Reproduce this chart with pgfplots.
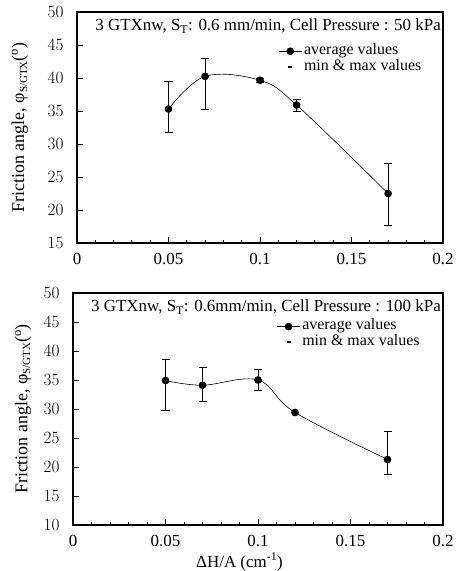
\documentclass[border=0pt]{standalone}
\usepackage{fontspec}
\setmainfont{Liberation Serif}
\usepackage{pgfplots}
\pgfplotsset{compat=1.18}

\pgfplotstableread{
x     y      ep    em
0.05  35.3   4.2   3.5
0.07  40.25  2.75  5.0
0.10  39.65  0.3   0.3
0.12  35.9   0.8   0.9
0.17  22.5   4.6   4.8
}\lowp

\pgfplotstableread{
x     y      ep    em
0.05  34.9   3.7   5.1
0.07  34.1   3.0   2.8
0.10  35.0   1.8   1.8
0.12  29.4   0.0   0.0
0.17  21.3   4.8   2.5
}\highp

\pgfplotsset{
  frictionax/.style={
    scale only axis,
    xmin=0, xmax=0.2,
    xtick={0,0.05,0.1,0.15,0.2},
    xticklabels={0,0.05,0.1,0.15,0.2},
    minor x tick num=4,
    ytick distance=5,
    tick pos=left,
    tick align=inside,
    major tick length=6bp,
    minor tick length=3bp,
    axis line style={line width=1.3pt},
    every tick/.style={black, line width=0.9pt},
    tick label style={font=\fontsize{17}{19}\selectfont},
    xticklabel style={yshift=-7bp},
    yticklabel style={xshift=-10bp},
    xlabel style={font=\fontsize{17}{19}\selectfont},
    ylabel style={font=\fontsize{18}{20}\selectfont, anchor=center},
    ylabel={Friction angle, φ\raisebox{-0.35ex}{\fontsize{11}{12}\selectfont S/GTX}(\textsuperscript{o})},
    legend style={draw=none, fill=none, font=\fontsize{16}{16}\selectfont,
      anchor=north west, row sep=2bp, inner sep=0pt,
      cells={anchor=west, text height=8bp, text depth=2bp, inner ysep=1bp, inner xsep=4bp}},
    legend image code/.code={
      \draw[mark repeat=2, mark phase=2, #1] plot coordinates {(0bp,0bp) (11.5bp,0bp) (23bp,0bp)};
    },
  },
  avgline/.style={black, line width=0.6pt, smooth, tension=0.6,
    mark=*, mark size=3.5bp, mark options={solid, fill=black},
    error bars/.cd, y dir=both, y explicit,
    error bar style={line width=0.7pt},
    error mark options={rotate=90, mark size=4bp, line width=0.7pt}},
}

\begin{document}
\begin{tikzpicture}
\useasboundingbox (0,0) rectangle (461bp,571bp);

\begin{axis}[frictionax,
  at={(77bp,328bp)}, anchor=south west,
  width=366bp, height=231bp,
  ymin=15, ymax=50,
  ylabel style={at={(axis description cs:-0.156,0.5)}},
  legend style={at={(rel axis cs:0.55,0.86)}},
]
\addplot+[avgline] table[x=x, y=y, y error plus=ep, y error minus=em] {\lowp};
\addlegendentry{average values}
\addlegendimage{legend image code/.code={\draw[line width=1.5pt] (9.5bp,0bp) -- (13.5bp,0bp);}}
\addlegendentry{min \& max values}
\node[anchor=north east, font=\fontsize{17}{19}\selectfont, inner sep=0pt]
  at ([xshift=-2bp, yshift=-7bp]rel axis cs:1,1)
  {3 GTXnw, S\textsubscript{T}: 0.6 mm/min, Cell Pressure : 50 kPa};
\end{axis}

\begin{axis}[frictionax,
  at={(73bp,46bp)}, anchor=south west,
  width=370bp, height=232bp,
  ymin=10, ymax=50,
  ylabel style={at={(axis description cs:-0.135,0.5)}},
  xlabel={ΔH/A (cm\textsuperscript{-1})},
  xlabel style={at={(axis description cs:0.45,0)}, anchor=center, yshift=-37bp},
  legend style={at={(rel axis cs:0.55,0.885)}},
]
\addplot+[avgline] table[x=x, y=y, y error plus=ep, y error minus=em] {\highp};
\addlegendentry{average values}
\addlegendimage{legend image code/.code={\draw[line width=1.5pt] (9.5bp,0bp) -- (13.5bp,0bp);}}
\addlegendentry{min \& max values}
\node[anchor=north east, font=\fontsize{17}{19}\selectfont, inner sep=0pt]
  at ([xshift=-2bp, yshift=-7bp]rel axis cs:1,1)
  {3 GTXnw, S\textsubscript{T}: 0.6mm/min, Cell Pressure : 100 kPa};
\end{axis}
\end{tikzpicture}
\end{document}
